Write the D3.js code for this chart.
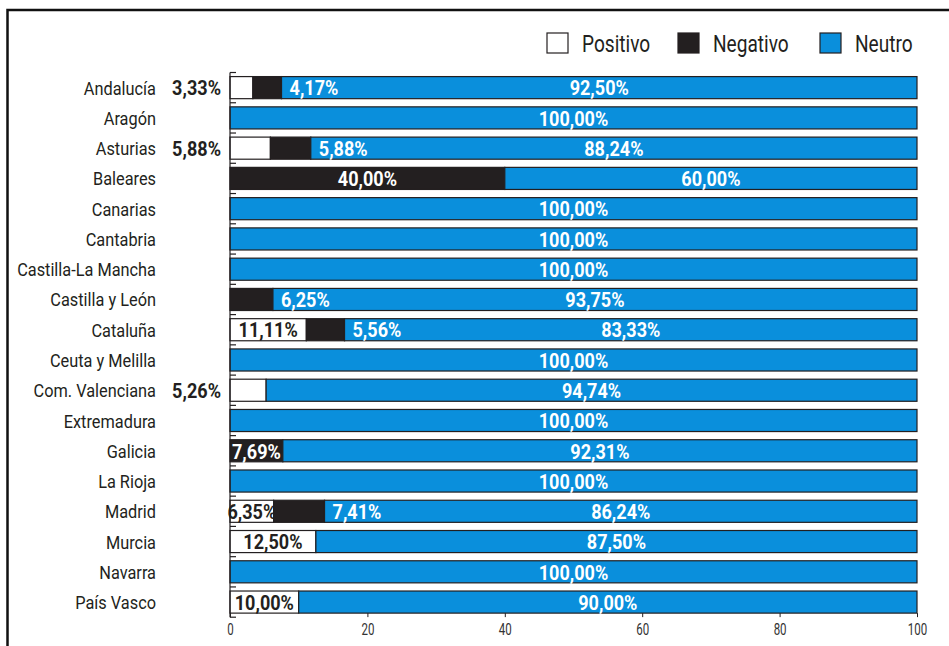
<!DOCTYPE html>
<html>
<head>
<meta charset="utf-8">
<script src="https://cdn.jsdelivr.net/npm/d3@7"></script>
<style>
  body { margin: 0; background: #fff; }
  svg text { font-family: Roboto, "Noto Sans", sans-serif; }
</style>
</head>
<body>
<script>
// data (percentages)
const categories = ["Andalucía", "Aragón", "Asturias", "Baleares", "Canarias", "Cantabria",
  "Castilla-La Mancha", "Castilla y León", "Cataluña", "Ceuta y Melilla", "Com. Valenciana",
  "Extremadura", "Galicia", "La Rioja", "Madrid", "Murcia", "Navarra", "País Vasco"];
const positivo = [3.33, 0, 5.88, 0, 0, 0, 0, 0, 11.11, 0, 5.26, 0, 0, 0, 6.35, 12.50, 0, 10.00];
const negativo = [4.17, 0, 5.88, 40.00, 0, 0, 0, 6.25, 5.56, 0, 0, 0, 7.69, 0, 7.41, 0, 0, 0];
const neutro = [92.50, 100, 88.24, 60.00, 100, 100, 100, 93.75, 83.33, 100, 94.74, 100, 92.31, 100, 86.24, 87.50, 100, 90.00];
const seriesNames = ["Positivo", "Negativo", "Neutro"];
const xTicks = [0, 20, 40, 60, 80, 100];

const width = 949, height = 646;
const colors = {Positivo: "#ffffff", Negativo: "#231f20", Neutro: "#0a8fdc"};

// no condensed face installed, so texts are squeezed horizontally
const squeeze = {cat: 0.86, label: 0.86, legend: 0.83, tick: 0.72};

let svg, x, y;

appendSvg();
setupScales();
drawBars();
drawLabels();
drawAxes();
drawLegend();

function appendSvg() {
  svg = d3.select("body").append("svg")
    .attr("width", width)
    .attr("height", height);

  // frame around the chart (runs off the right and bottom edge)
  svg.append("rect")
    .attr("x", 7.5).attr("y", 10)
    .attr("width", 1000).attr("height", 700)
    .attr("fill", "none")
    .attr("stroke", "#111")
    .attr("stroke-width", 2.5);
}

function setupScales() {
  x = d3.scaleLinear().domain([0, 100]).range([230, 917]);
  y = d3.scaleBand().domain(categories)
    .range([72.5, 617.2])
    .paddingInner(0.27)
    .paddingOuter(0.135);
}

function rows() {
  return categories.map((c, i) => ({
    cat: c, Positivo: positivo[i], Negativo: negativo[i], Neutro: neutro[i]
  }));
}

function drawBars() {
  const stacked = d3.stack().keys(seriesNames)(rows());
  svg.append("g").selectAll("g")
    .data(stacked)
    .join("g")
    .attr("fill", d => colors[d.key])
    .selectAll("rect")
    .data(d => d.filter(p => p[1] - p[0] > 0))
    .join("rect")
    .attr("x", d => x(d[0]))
    .attr("y", d => y(d.data.cat))
    .attr("width", d => x(d[1]) - x(d[0]))
    .attr("height", y.bandwidth())
    .attr("stroke", "#231f20")
    .attr("stroke-width", 1.2);
}

function fmt(v) {
  return v.toFixed(2).replace(".", ",") + "%";
}

function drawLabels() {
  const stacked = d3.stack().keys(seriesNames)(rows());
  const labels = [];
  stacked.forEach(s => {
    s.forEach(p => {
      const v = p.data[s.key];
      if (!(v > 0)) return;
      const x0 = x(p[0]), x1 = x(p[1]), w = x1 - x0;
      let lx = (x0 + x1) / 2, anchor = "middle";
      let fill = s.key === "Positivo" ? "#231f20" : "#fff";
      if (s.key === "Positivo" && w < 42) {
        // small positive share goes outside, left of the axis
        lx = x0 - 9; anchor = "end";
      }
      if (s.key === "Negativo" && w < 52) {
        // small negative share sits just after its segment
        lx = x1 + 8; anchor = "start";
      }
      labels.push({text: fmt(v), x: lx, y: y(p.data.cat) + y.bandwidth() / 2, anchor, fill});
    });
  });

  const k = squeeze.label;
  svg.append("g").selectAll("text")
    .data(labels)
    .join("text")
    .attr("transform", `scale(${k},1)`)
    .attr("x", d => d.x / k)
    .attr("y", d => d.y)
    .attr("dy", "0.37em")
    .attr("text-anchor", d => d.anchor)
    .attr("fill", d => d.fill)
    .attr("font-size", 21)
    .attr("font-weight", "bold")
    .text(d => d.text);
}

function drawAxes() {
  // category names
  const k = squeeze.cat;
  svg.append("g").selectAll("text")
    .data(categories)
    .join("text")
    .attr("transform", `scale(${k},1)`)
    .attr("x", 156 / k)
    .attr("y", d => y(d) + y.bandwidth() / 2)
    .attr("dy", "0.37em")
    .attr("text-anchor", "end")
    .attr("fill", "#231f20")
    .attr("font-size", 19)
    .text(d => d);

  // left axis line with ticks on the band boundaries
  const half = y.step() * y.paddingInner() / 2;
  const bounds = categories.map(c => y(c) - half);
  bounds.push(y(categories[categories.length - 1]) + y.bandwidth() + half);
  const ax = svg.append("g").attr("stroke", "#231f20").attr("stroke-width", 1.2);
  ax.append("line")
    .attr("x1", 230).attr("x2", 230)
    .attr("y1", bounds[0]).attr("y2", bounds[bounds.length - 1]);
  ax.selectAll(".tk")
    .data(bounds)
    .join("line")
    .attr("class", "tk")
    .attr("x1", 230).attr("x2", 236)
    .attr("y1", d => d).attr("y2", d => d);

  // bottom axis, no domain line
  const yBottom = y(categories[categories.length - 1]) + y.bandwidth();
  const xa = svg.append("g")
    .attr("transform", `translate(0, ${yBottom})`)
    .call(d3.axisBottom(x).tickValues(xTicks).tickSize(4).tickPadding(7).tickFormat(d3.format("d")));
  xa.select(".domain").remove();
  xa.selectAll("line").attr("stroke", "#231f20");
  xa.selectAll("text")
    .attr("transform", `scale(${squeeze.tick},1)`)
    .style("font-size", "16px")
    .attr("fill", "#333")
    .attr("font-family", "Roboto, sans-serif");
}

function drawLegend() {
  const items = [
    {name: "Positivo", x: 547},
    {name: "Negativo", x: 678},
    {name: "Neutro", x: 820}
  ];
  const k = squeeze.legend;
  const lg = svg.append("g").selectAll("g")
    .data(items)
    .join("g")
    .attr("transform", d => `translate(${d.x}, 33)`);
  lg.append("rect")
    .attr("width", 21).attr("height", 20)
    .attr("fill", d => colors[d.name])
    .attr("stroke", "#231f20")
    .attr("stroke-width", 1.2);
  lg.append("text")
    .attr("transform", `scale(${k},1)`)
    .attr("x", 35 / k)
    .attr("y", 10)
    .attr("dy", "0.37em")
    .attr("font-size", 23)
    .attr("fill", "#231f20")
    .text(d => d.name);
}
</script>
</body>
</html>
